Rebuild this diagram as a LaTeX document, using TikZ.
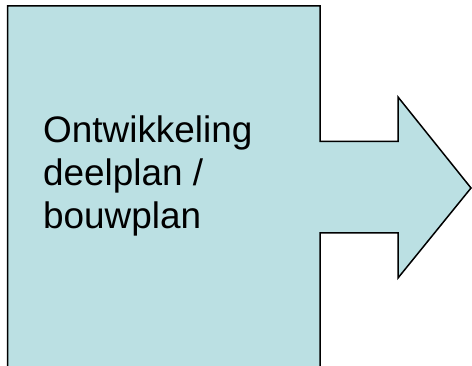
\documentclass[tikz,border=0pt]{standalone}
\usepackage{fontspec}
\setmainfont{Liberation Sans}
\usetikzlibrary{positioning}

\definecolor{planblue}{HTML}{BBE0E3}

\begin{document}
\begin{tikzpicture}[x=1pt, y=-1pt]
    \useasboundingbox (0,0) rectangle (472,366);
    \clip (0,0) rectangle (472,366);

    \draw[fill=planblue, line width=1.5pt, line join=miter]
        (7.5,6) -- (320,6) -- (320,141.5) -- (398,141.5) -- (398,97)
        -- (471,188) -- (398,278) -- (398,233) -- (320,233)
        -- (320,390) -- (7.5,390) -- cycle;

    \node[anchor=base west, align=left, inner sep=0pt,
          font=\fontsize{36.9}{43}\selectfont] (plan) at (43,229)
        {Ontwikkeling\\deelplan /\\bouwplan};
\end{tikzpicture}
\end{document}
